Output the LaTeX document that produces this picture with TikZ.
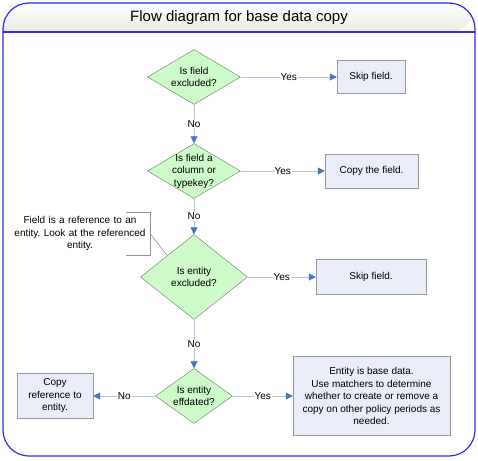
\documentclass[tikz,border=0pt]{standalone}
\usepackage{fontspec}
\setmainfont{Liberation Sans}
\frenchspacing
\usetikzlibrary{arrows.meta,shapes.geometric}

\definecolor{frameblue}{RGB}{45,45,240}
\definecolor{headgray}{RGB}{234,234,226}
\definecolor{decfill}{RGB}{204,250,200}
\definecolor{decdraw}{RGB}{110,120,110}
\definecolor{boxfill}{RGB}{232,237,248}
\definecolor{boxdraw}{RGB}{150,152,162}
\definecolor{lineblue}{RGB}{176,196,224}
\definecolor{tipblue}{RGB}{70,116,200}

\tikzset{
  decision/.style = {diamond, draw=decdraw, fill=decfill, inner sep=0pt,
    label={[align=center]center:#1}},
  process/.style = {rectangle, draw=boxdraw, fill=boxfill, align=center, inner sep=2pt},
  flow/.style = {draw=lineblue, line width=0.8pt,
    -{Triangle[length=7pt,width=7pt,color=tipblue]}},
  yn/.style = {fill=white, inner sep=1pt},
  note/.style = {align=center, inner sep=0pt, text width=140pt},
  noteline/.style = {draw=gray!85, line width=0.6pt},
  frame/.style = {draw=frameblue, line width=1.2pt}
}

\begin{document}
\begin{tikzpicture}[x=1pt, y=-1pt, font=\fontsize{10}{12.5}\selectfont]
  \useasboundingbox (0,0) rectangle (478,460);

  % frame and title
  \shade[top color=white, bottom color=headgray, rounded corners=26pt]
    (3,32) |- (239,3) -| (475,32) [sharp corners] -- cycle;
  \draw[frame, rounded corners=26pt] (3,3) rectangle (475,456);
  \draw[frame] (3,32) -- (475,32);
  \node[font=\fontsize{15}{17}\selectfont] (title) at (239,18) {Flow diagram for base data copy};

  % decisions
  \node[decision={Is field\\excluded?}, minimum width=93pt, minimum height=55pt] (excl) at (194,77) {};
  \node[decision={Is field a\\column or\\typekey?}, minimum width=93pt, minimum height=55pt] (col) at (194,171) {};
  \node[decision={Is entity\\excluded?}, minimum width=107pt, minimum height=85pt] (entexcl) at (194,277) {};
  \node[decision={Is entity\\effdated?}, minimum width=77pt, minimum height=55pt] (effd) at (194,396) {};

  % results
  \node[process, minimum width=68pt, minimum height=33pt] (skipa) at (371,77) {Skip field.};
  \node[process, minimum width=93pt, minimum height=34pt] (copyfield) at (371.5,171) {Copy the field.};
  \node[process, minimum width=110pt, minimum height=35pt] (skipb) at (371,277) {Skip field.};
  \node[process, minimum width=76pt, minimum height=45pt] (copyref) at (55,396) {Copy\\reference to\\entity.};
  \node[process, minimum width=157pt, minimum height=79pt] (basedata) at (371.5,396)
    {Entity is base data.\\Use matchers to determine\\whether to create or remove a\\copy on other policy periods as\\needed.};

  % callout
  \node[note, minimum height=43pt] (callout) at (80,233.5)
    {Field is a reference to an\\entity. Look at the referenced\\entity.};
  \draw[noteline] ([xshift=-24pt]callout.north east) -- (callout.north east)
    -- (callout.south east) -- ([xshift=-24pt]callout.south east);
  \draw[noteline] (callout.east) -- (entexcl.north west);

  % connectors
  \draw[flow] (excl.east) -- node[yn] {Yes} (skipa.west);
  \draw[flow] (excl.south) -- node[yn] {No} (col.north);
  \draw[flow] (col.east) -- node[yn] {Yes} (copyfield.west);
  \draw[flow] (col.south) -- node[yn] {No} (entexcl.north);
  \draw[flow] (entexcl.east) -- node[yn] {Yes} (skipb.west);
  \draw[flow] (entexcl.south) -- node[yn] {No} (effd.north);
  \draw[flow] (effd.west) -- node[yn] {No} (copyref.east);
  \draw[flow] (effd.east) -- node[yn] {Yes} (basedata.west);

\end{tikzpicture}
\end{document}
